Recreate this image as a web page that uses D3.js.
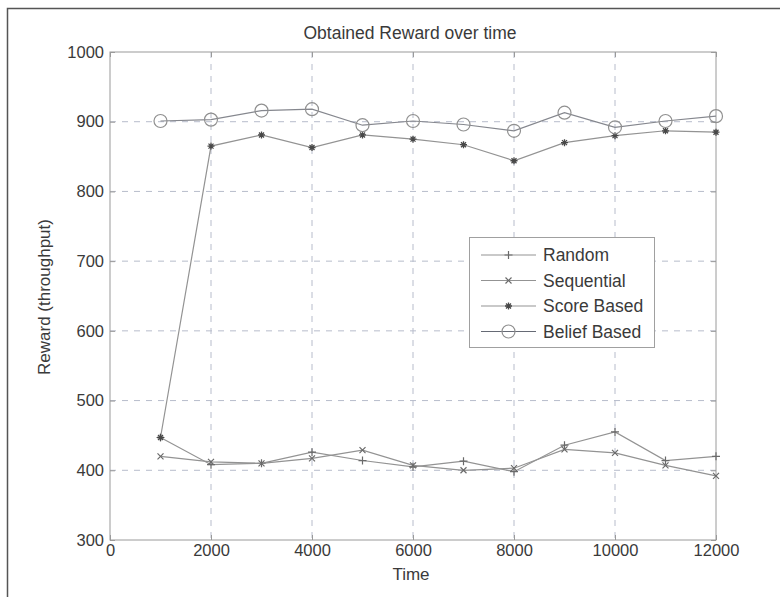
<!DOCTYPE html>
<html>
<head>
<meta charset="utf-8">
<script src="https://cdn.jsdelivr.net/npm/d3@7"></script>
<style>
  html, body { margin: 0; padding: 0; background: #fff; }
  svg { display: block; font-family: "Liberation Sans", Arial, sans-serif; }
</style>
</head>
<body>
<svg id="chart" width="780" height="597"></svg>
<script>
// Time steps and obtained reward per strategy
const times = [1000, 2000, 3000, 4000, 5000, 6000, 7000, 8000, 9000, 10000, 11000, 12000];
const randomReward     = [447, 408, 410, 426, 414, 405, 413, 398, 436, 455, 414, 420];
const sequentialReward = [420, 412, 410, 417, 429, 407, 400, 403, 430, 425, 407, 392];
const scoreReward      = [447, 865, 881, 863, 881, 875, 867, 844, 870, 880, 887, 885];
const beliefReward     = [901, 903, 916, 918, 895, 901, 896, 887, 913, 892, 901, 908];

const seriesNames = ["Random", "Sequential", "Score Based", "Belief Based"];
const seriesMarkers = ["plus", "cross", "star", "circle"];
const seriesValues = [randomReward, sequentialReward, scoreReward, beliefReward];

const xTicks = [0, 2000, 4000, 6000, 8000, 10000, 12000];
const yTicks = [300, 400, 500, 600, 700, 800, 900, 1000];

const svg = d3.select("#chart");
const plot = { left: 110, right: 716, top: 52, bottom: 540 };

const x = d3.scaleLinear().domain([0, 12000]).range([plot.left, plot.right]);
const y = d3.scaleLinear().domain([300, 1000]).range([plot.bottom, plot.top]);

const textColor = "#3a3a3a";
const gridColor = "#b7bccb";
const lineColor = "#939393";
const markColor = "#6a6a6a";

// Figure frame
svg.append("path")
  .attr("d", "M7.5,597 L7.5,8.5 L780,8.5")
  .attr("fill", "none").attr("stroke", "#555").attr("stroke-width", 1.5);

// Dashed grid
const grid = svg.append("g");
grid.selectAll("line.gx").data(xTicks.slice(1, -1)).join("line")
  .attr("x1", d => x(d)).attr("x2", d => x(d))
  .attr("y1", plot.top).attr("y2", plot.bottom)
  .attr("stroke", gridColor).attr("stroke-dasharray", "6,6");
grid.selectAll("line.gy").data(yTicks.slice(1, -1)).join("line")
  .attr("x1", plot.left).attr("x2", plot.right)
  .attr("y1", d => y(d)).attr("y2", d => y(d))
  .attr("stroke", gridColor).attr("stroke-dasharray", "6,6");

// Axes box with inward ticks
svg.append("rect")
  .attr("x", plot.left).attr("y", plot.top)
  .attr("width", plot.right - plot.left).attr("height", plot.bottom - plot.top)
  .attr("fill", "none").attr("stroke", "#9a9a9a");

const xAxis = svg.append("g").attr("transform", `translate(0,${plot.bottom})`)
  .call(d3.axisBottom(x).tickValues(xTicks).tickSizeInner(-5).tickSizeOuter(0).tickPadding(4).tickFormat(d3.format("d")));
const xAxisTop = svg.append("g").attr("transform", `translate(0,${plot.top})`)
  .call(d3.axisTop(x).tickValues(xTicks).tickSizeInner(-5).tickSizeOuter(0).tickFormat(""));
const yAxis = svg.append("g").attr("transform", `translate(${plot.left},0)`)
  .call(d3.axisLeft(y).tickValues(yTicks).tickSizeInner(-5).tickSizeOuter(0).tickPadding(6).tickFormat(d3.format("d")));
const yAxisRight = svg.append("g").attr("transform", `translate(${plot.right},0)`)
  .call(d3.axisRight(y).tickValues(yTicks).tickSizeInner(-5).tickSizeOuter(0).tickFormat(""));

[xAxis, xAxisTop, yAxis, yAxisRight].forEach(g => {
  g.select(".domain").remove();
  g.selectAll(".tick line").attr("stroke", "#9a9a9a");
  g.selectAll(".tick text").attr("fill", textColor).attr("font-size", 16.5)
    .attr("font-family", "Liberation Sans, Arial, sans-serif");
});

// Marker shapes
function drawMarker(g, kind, cx, cy) {
  if (kind === "plus") {
    g.append("path").attr("d", `M${cx - 4},${cy} H${cx + 4} M${cx},${cy - 4} V${cy + 4}`)
      .attr("stroke", markColor).attr("stroke-width", 1.2).attr("fill", "none");
  } else if (kind === "cross") {
    g.append("path").attr("d", `M${cx - 3},${cy - 3} L${cx + 3},${cy + 3} M${cx - 3},${cy + 3} L${cx + 3},${cy - 3}`)
      .attr("stroke", markColor).attr("stroke-width", 1.2).attr("fill", "none");
  } else if (kind === "star") {
    g.append("path").attr("d",
      `M${cx - 3.5},${cy} H${cx + 3.5} M${cx},${cy - 3.5} V${cy + 3.5} ` +
      `M${cx - 2.5},${cy - 2.5} L${cx + 2.5},${cy + 2.5} M${cx - 2.5},${cy + 2.5} L${cx + 2.5},${cy - 2.5}`)
      .attr("stroke", "#484848").attr("stroke-width", 1.3).attr("fill", "none");
  } else if (kind === "circle") {
    g.append("circle").attr("cx", cx).attr("cy", cy).attr("r", 6.5)
      .attr("stroke", "#909090").attr("stroke-width", 1.2).attr("fill", "none");
  }
}

// Series lines and markers
const line = d3.line().x((d, i) => x(times[i])).y(d => y(d));
seriesValues.forEach((vals, s) => {
  const g = svg.append("g");
  g.append("path").datum(vals).attr("d", line)
    .attr("fill", "none").attr("stroke", s === 3 ? "#85878e" : lineColor).attr("stroke-width", 1.2);
  vals.forEach((v, i) => drawMarker(g, seriesMarkers[s], x(times[i]), y(v)));
});

// Legend
const legend = svg.append("g");
legend.append("rect").attr("x", 469.5).attr("y", 237.5).attr("width", 185).attr("height", 110)
  .attr("fill", "#fff").attr("stroke", "#a0a0a0");
seriesNames.forEach((name, s) => {
  const ly = 255 + s * 25.5;
  legend.append("line").attr("x1", 481).attr("x2", 536).attr("y1", ly).attr("y2", ly)
    .attr("stroke", s === 3 ? "#666a75" : lineColor).attr("stroke-width", 1.2);
  drawMarker(legend, seriesMarkers[s], 508.5, ly);
  legend.append("text").attr("x", 543).attr("y", ly).attr("dy", "0.35em")
    .attr("font-size", 17.5).attr("fill", textColor).text(name);
});

// Title and axis labels
svg.append("text").attr("x", 410).attr("y", 39).attr("text-anchor", "middle")
  .attr("font-size", 17.5).attr("fill", textColor).text("Obtained Reward over time");
svg.append("text").attr("x", 411).attr("y", 580).attr("text-anchor", "middle")
  .attr("font-size", 17).attr("fill", textColor).text("Time");
svg.append("text").attr("transform", "translate(50,297) rotate(-90)").attr("text-anchor", "middle")
  .attr("font-size", 17).attr("fill", textColor).text("Reward (throughput)");
</script>
</body>
</html>
